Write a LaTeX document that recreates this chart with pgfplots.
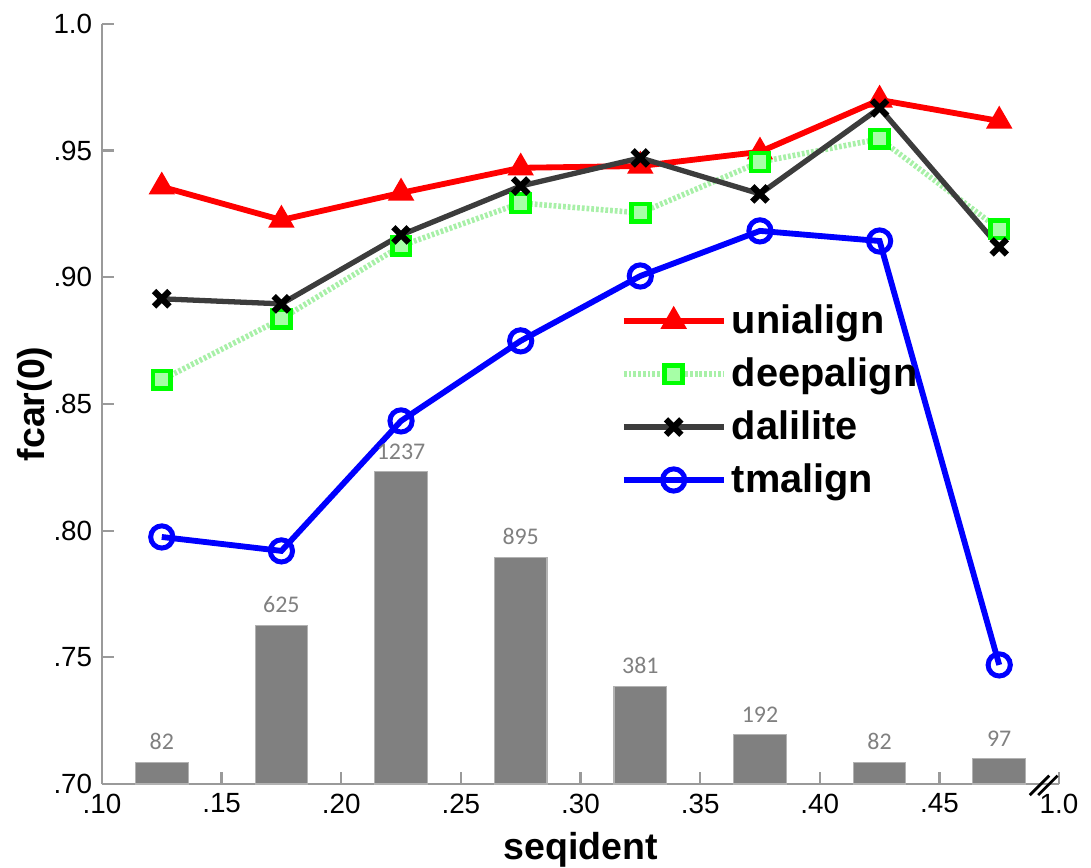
\documentclass[border=0pt]{standalone}
\usepackage{fontspec}
\setmainfont{Liberation Sans}
\newfontfamily\barfont{Carlito}
\usepackage{pgfplots}
\usepackage{pgfplotstable}
\pgfplotsset{compat=1.18}
\definecolor{axgray}{HTML}{9A9A9A}
\definecolor{bargray}{HTML}{808080}
\definecolor{lightgreen}{HTML}{A8F0A8}
\definecolor{darkline}{HTML}{3C3C3C}
\pgfplotstableread{
x h c
0.125 0.7085 82
0.175 0.7625 625
0.225 0.8232 1237
0.275 0.7893 895
0.325 0.7385 381
0.375 0.7195 192
0.425 0.7085 82
0.475 0.7100 97
}\bars
\pgfplotstableread{
x y
0.125 0.9357
0.175 0.9226
0.225 0.9333
0.275 0.9432
0.325 0.9439
0.375 0.9495
0.425 0.9700
0.475 0.9617
}\uni
\pgfplotstableread{
x y
0.125 0.8595
0.175 0.8836
0.225 0.9124
0.275 0.9293
0.325 0.9254
0.375 0.9455
0.425 0.9546
0.475 0.9190
}\deep
\pgfplotstableread{
x y
0.125 0.8915
0.175 0.8895
0.225 0.9167
0.275 0.9360
0.325 0.9471
0.375 0.9329
0.425 0.9668
0.475 0.9120
}\dali
\pgfplotstableread{
x y
0.125 0.7975
0.175 0.7920
0.225 0.8433
0.275 0.8749
0.325 0.9005
0.375 0.9183
0.425 0.9143
0.475 0.7470
}\tm
\begin{document}
\begin{tikzpicture}
\begin{axis}[
  scale only axis,
  width=344.5pt, height=273.6pt,
  xmin=0.10, xmax=0.50, ymin=0.70, ymax=1.0,
  axis lines*=left,
  axis line style={axgray, line width=1pt},
  tick style={axgray, line width=0.8pt},
  tick align=inside,
  major tick length=4.3pt,
  xtick={0.10,0.15,0.20,0.25,0.30,0.35,0.40,0.45,0.50},
  xticklabels={.10,.15,.20,.25,.30,.35,.40,.45,1.0},
  ytick={0.70,0.75,0.80,0.85,0.90,0.95,1.0},
  yticklabels={.70,.75,.80,.85,.90,.95,1.0},
  tick label style={font=\fontsize{10}{12}\selectfont},
  /pgf/number format/assume math mode=true,
  xlabel={\bfseries seqident},
  ylabel={\bfseries fcar(0)},
  label style={font=\fontsize{13.5}{16}\selectfont},
  xlabel style={at={([yshift=-23.8pt]axis description cs:0.5,0)}, anchor=center},
  ylabel style={at={([xshift=-24pt]axis description cs:0,0.5)}, anchor=center},
  clip=false,
  legend style={draw=none, fill=none, at={(0.533,0.646)}, anchor=north west,
    font=\fontsize{14.3}{17}\selectfont\bfseries, row sep=3.2pt},
  legend cell align=left,
  legend image code/.code={\draw[mark repeat=2,mark phase=2] plot coordinates {(0cm,0cm) (0.63cm,0cm) (1.26cm,0cm)};},
]
\addplot[ybar, bar width=0.022, bar shift=0pt, fill=bargray, draw=gray!60, line width=0.4pt,
  point meta=explicit symbolic,
  nodes near coords,
  every node near coord/.append style={font=\barfont\fontsize{8.6}{10}\selectfont, text=gray, yshift=1pt},
  forget plot] table[x=x, y=h, meta=c] {\bars};
\addplot[red, line width=2.1pt, mark=triangle*, mark size=4.3pt, mark options={solid, fill=red, line width=1.2pt}] table {\uni};
\addlegendentry{unialign}
\addplot[lightgreen, line width=2pt, dash pattern=on 1pt off 0.7pt, mark=square*, mark size=3.2pt, mark options={solid, draw=green, fill=green!35!white, line width=1.7pt}] table {\deep};
\addlegendentry{deepalign}
\addplot[darkline, line width=1.9pt, mark=x, mark size=3.9pt, mark options={solid, black, line width=2.2pt}] table {\dali};
\addlegendentry{dalilite}
\addplot[blue, line width=2.1pt, mark=o, mark size=4pt, mark options={solid, line width=1.8pt}] table {\tm};
\addlegendentry{tmalign}
\draw[black, line width=1pt] ([xshift=-4.5pt,yshift=-4pt]axis cs:0.493,0.70) -- ++(7pt,7pt);
\draw[black, line width=1pt] ([xshift=-1.5pt,yshift=-4pt]axis cs:0.493,0.70) -- ++(7pt,7pt);
\end{axis}
\pgfresetboundingbox
\path ([shift={(-36.7pt,-29.9pt)}]current axis.origin) rectangle ++(392.7pt,312.1pt);
\end{tikzpicture}
\end{document}
